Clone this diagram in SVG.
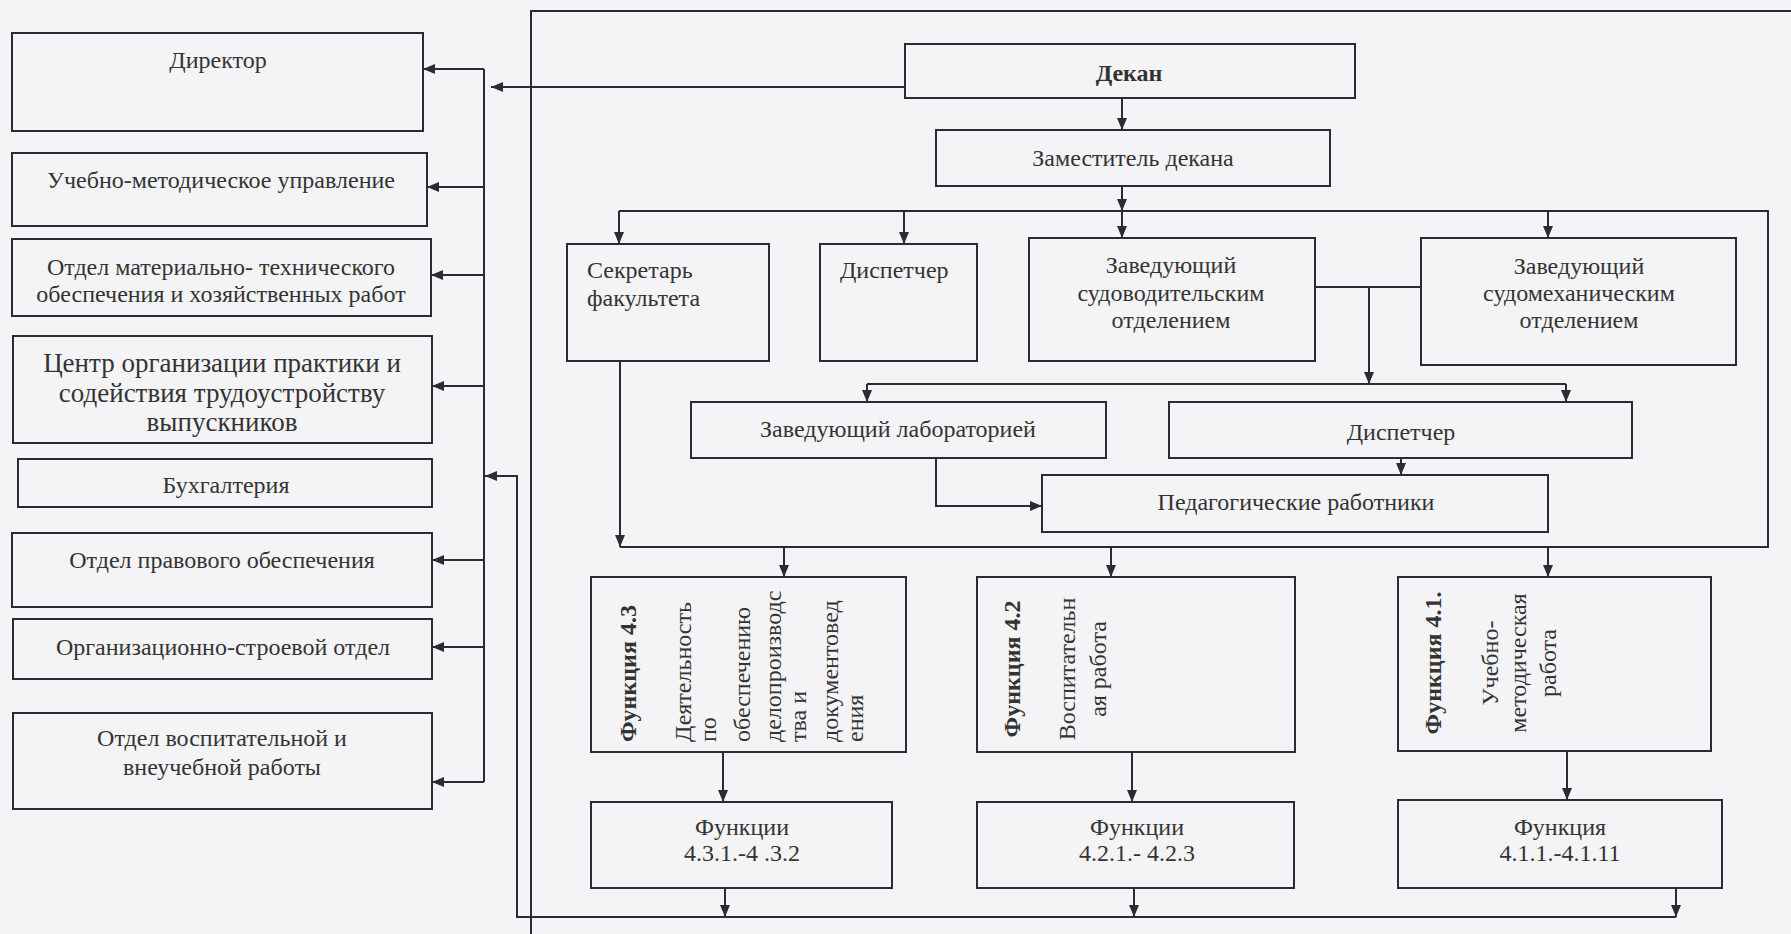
<svg xmlns="http://www.w3.org/2000/svg" width="1791" height="934" viewBox="0 0 1791 934">
<defs>
<marker id="ah" viewBox="0 0 12 10" refX="12" refY="5" markerWidth="12" markerHeight="10" markerUnits="userSpaceOnUse" orient="auto">
<path d="M0,0 L12,5 L0,10 z" fill="#2b2b35"/>
</marker>
<style>
.b{fill:none;stroke:#2b2b35;stroke-width:2}
.c{fill:none;stroke:#2b2b35;stroke-width:2}
.a{marker-end:url(#ah)}
text{font-family:"Liberation Serif","Times New Roman",serif;font-size:24px;fill:#333}
.m{text-anchor:middle}
.bd{font-weight:bold}
.big{font-size:27px}
</style>
</defs>
<rect width="1791" height="934" fill="#f4f4f6"/>

<g id="connectors">
<!-- frame -->
<path class="c" d="M531,934 V11 H1791"/>
<!-- left bus -->
<path class="c" d="M484,69 V782"/>
<path class="c a" d="M484,69 H423"/>
<path class="c a" d="M484,187 H427"/>
<path class="c a" d="M484,275 H431"/>
<path class="c a" d="M484,386 H432"/>
<path class="c a" d="M484,560 H432"/>
<path class="c a" d="M484,647 H432"/>
<path class="c a" d="M484,782 H432"/>
<!-- Dean to bus -->
<path class="c a" d="M905,87 H491"/>
<!-- feedback loop -->
<path class="c a" d="M1676,917 H517 V476 H485"/>
<!-- Dean to deputy -->
<path class="c a" d="M1122,98 V130"/>
<path class="c a" d="M1122,186 V211"/>
<path class="c" d="M619,211 H1768 V547 H620"/>
<path class="c a" d="M619,211 V244"/>
<path class="c a" d="M904,211 V244"/>
<path class="c a" d="M1122,211 V238"/>
<path class="c a" d="M1548,211 V238"/>
<!-- secretary down -->
<path class="c a" d="M620,361 V547"/>
<!-- to functions -->
<path class="c a" d="M784,547 V577"/>
<path class="c a" d="M1111,547 V577"/>
<path class="c a" d="M1548,547 V577"/>
<!-- heads link -->
<path class="c" d="M1315,287 H1421"/>
<path class="c a" d="M1369,287 V384"/>
<path class="c" d="M867,384 H1566"/>
<path class="c a" d="M867,384 V402"/>
<path class="c a" d="M1566,384 V402"/>
<path class="c a" d="M1401,458 V475"/>
<path class="c a" d="M936,458 V506 H1042"/>
<!-- functions down -->
<path class="c a" d="M723,752 V802"/>
<path class="c a" d="M1132,752 V802"/>
<path class="c a" d="M1567,751 V800"/>
<path class="c a" d="M725,888 V917"/>
<path class="c a" d="M1134,888 V917"/>
<path class="c a" d="M1676,888 V917"/>
</g>

<g id="director"><rect class="b" x="12" y="33" width="411" height="98"/><text class="m" x="218" y="68">Директор</text></g>
<g id="umu"><rect class="b" x="12" y="153" width="415" height="73"/><text class="m" x="221" y="188">Учебно-методическое управление</text></g>
<g id="omto"><rect class="b" x="12" y="239" width="419" height="77"/><text class="m" x="221" y="275">Отдел материально- технического</text><text class="m" x="221" y="302">обеспечения и хозяйственных работ</text></g>
<g id="center"><rect class="b" x="13" y="336" width="419" height="107"/><text class="m big" x="222" y="372">Центр организации практики и</text><text class="m big" x="222" y="402">содействия трудоустройству</text><text class="m big" x="222" y="431">выпускников</text></g>
<g id="buh"><rect class="b" x="18" y="459" width="414" height="48"/><text class="m" x="226" y="493">Бухгалтерия</text></g>
<g id="legal"><rect class="b" x="12" y="533" width="420" height="74"/><text class="m" x="222" y="568">Отдел правового обеспечения</text></g>
<g id="org"><rect class="b" x="13" y="619" width="419" height="60"/><text class="m" x="223" y="655">Организационно-строевой отдел</text></g>
<g id="vosp"><rect class="b" x="13" y="713" width="419" height="96"/><text class="m" x="222" y="746">Отдел воспитательной и</text><text class="m" x="222" y="775">внеучебной работы</text></g>

<g id="dean"><rect class="b" x="905" y="44" width="450" height="54"/><text class="m bd" x="1129" y="81">Декан</text></g>
<g id="deputy"><rect class="b" x="936" y="130" width="394" height="56"/><text class="m" x="1133" y="166">Заместитель декана</text></g>
<g id="secretary"><rect class="b" x="567" y="244" width="202" height="117"/><text x="587" y="278">Секретарь</text><text x="587" y="306">факультета</text></g>
<g id="disp1"><rect class="b" x="820" y="244" width="157" height="117"/><text x="840" y="278">Диспетчер</text></g>
<g id="sudovod"><rect class="b" x="1029" y="238" width="286" height="123"/><text class="m" x="1171" y="273">Заведующий</text><text class="m" x="1171" y="301">судоводительским</text><text class="m" x="1171" y="328">отделением</text></g>
<g id="sudomeh"><rect class="b" x="1421" y="238" width="315" height="127"/><text class="m" x="1579" y="274">Заведующий</text><text class="m" x="1579" y="301">судомеханическим</text><text class="m" x="1579" y="328">отделением</text></g>
<g id="lab"><rect class="b" x="691" y="402" width="415" height="56"/><text class="m" x="898" y="437">Заведующий лабораторией</text></g>
<g id="disp2"><rect class="b" x="1169" y="402" width="463" height="56"/><text class="m" x="1401" y="440">Диспетчер</text></g>
<g id="ped"><rect class="b" x="1042" y="475" width="506" height="57"/><text class="m" x="1296" y="510">Педагогические работники</text></g>

<g id="f43"><rect class="b" x="591" y="577" width="315" height="175"/>
<text class="bd" transform="translate(636,742) rotate(-90)">Функция 4.3</text>
<text transform="translate(691,742) rotate(-90)">Деятельность</text>
<text transform="translate(716,742) rotate(-90)">по</text>
<text transform="translate(750,742) rotate(-90)">обеспечению</text>
<text transform="translate(781,742) rotate(-90)">делопроизводс</text>
<text transform="translate(806,742) rotate(-90)">тва и</text>
<text transform="translate(838,742) rotate(-90)">документовед</text>
<text transform="translate(863,742) rotate(-90)">ения</text>
</g>
<g id="f42"><rect class="b" x="977" y="577" width="318" height="175"/>
<text class="bd m" transform="translate(1020,669) rotate(-90)">Функция 4.2</text>
<text class="m" transform="translate(1075,669) rotate(-90)">Воспитательн</text>
<text class="m" transform="translate(1106,669) rotate(-90)">ая работа</text>
</g>
<g id="f41"><rect class="b" x="1398" y="577" width="313" height="174"/>
<text class="bd m" transform="translate(1441,663) rotate(-90)">Функция 4.1.</text>
<text class="m" transform="translate(1498,663) rotate(-90)">Учебно-</text>
<text class="m" transform="translate(1526,663) rotate(-90)">методическая</text>
<text class="m" transform="translate(1556,663) rotate(-90)">работа</text>
</g>
<g id="f43s"><rect class="b" x="591" y="802" width="301" height="86"/><text class="m" x="742" y="835">Функции</text><text class="m" x="742" y="861">4.3.1.-4 .3.2</text></g>
<g id="f42s"><rect class="b" x="977" y="802" width="317" height="86"/><text class="m" x="1137" y="835">Функции</text><text class="m" x="1137" y="861">4.2.1.- 4.2.3</text></g>
<g id="f41s"><rect class="b" x="1398" y="800" width="324" height="88"/><text class="m" x="1560" y="835">Функция</text><text class="m" x="1560" y="861">4.1.1.-4.1.11</text></g>
</svg>
